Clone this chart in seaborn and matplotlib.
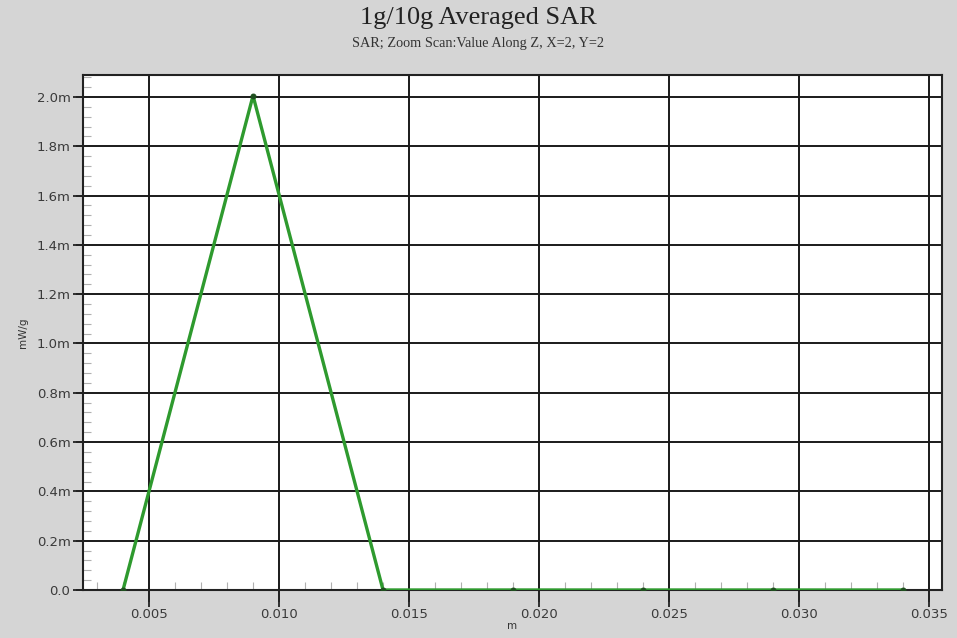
import matplotlib
matplotlib.use("Agg")
import matplotlib.pyplot as plt
from matplotlib.ticker import MultipleLocator
import seaborn as sns
import pandas as pd

# Data
z_m = [0.004, 0.009, 0.014, 0.019, 0.024, 0.029, 0.034]
sar_mw_g = [0.0, 0.002005, 0.0, 0.0, 0.0, 0.0, 0.0]
x_ticks = [0.005, 0.010, 0.015, 0.020, 0.025, 0.030, 0.035]
x_tick_labels = ["0.005", "0.010", "0.015", "0.020", "0.025", "0.030", "0.035"]
y_ticks = [0.0, 0.0002, 0.0004, 0.0006, 0.0008, 0.0010, 0.0012, 0.0014, 0.0016, 0.0018, 0.0020]
y_tick_labels = ["0.0", "0.2m", "0.4m", "0.6m", "0.8m", "1.0m", "1.2m", "1.4m", "1.6m", "1.8m", "2.0m"]

df = pd.DataFrame({"z": z_m, "sar": sar_mw_g})

sns.set_style("ticks")
plt.rcParams["font.family"] = ["DejaVu Sans"]

bg = "#d5d5d5"
W, H = 957, 638
L, R, T, B = 83, 942, 75, 590
fig = plt.figure(figsize=(W / 100, H / 100), dpi=100, facecolor=bg)
ax = fig.add_axes([L / W, 1 - B / H, (R - L) / W, (B - T) / H])
ax.set_facecolor("white")

sns.lineplot(data=df, x="z", y="sar", ax=ax, color="#2e9a2e", linewidth=2.4,
             marker="o", markersize=3.5, markerfacecolor="#1f4f1f",
             markeredgecolor="#1f4f1f", zorder=3)

ax.set_xlim(0.00246, 0.0355)
ax.set_ylim(0.0, 0.002089)

ax.set_xticks(x_ticks)
ax.set_xticklabels(x_tick_labels, fontsize=9.5, color="#3a3a3a")
ax.set_yticks(y_ticks)
ax.set_yticklabels(y_tick_labels, fontsize=9.5, color="#3a3a3a")
ax.xaxis.set_minor_locator(MultipleLocator(0.001))
ax.yaxis.set_minor_locator(MultipleLocator(0.00004))

ax.grid(True, which="major", color="#1a1a1a", linewidth=1.4)
for s in ax.spines.values():
    s.set_color("#222222")
    s.set_linewidth(1.5)

ax.tick_params(axis="both", which="minor", bottom=True, left=True, direction="in",
               length=6, width=0.8, color="#b0b0b0")
ax.tick_params(axis="y", which="major", left=True, direction="out", length=7, width=1.3,
               color="#222222", pad=2)
ax.tick_params(axis="x", which="major", bottom=True, direction="out", length=12, width=1.3,
               color="#222222", pad=1)

# explicit outward major tick marks (drawn at the tick values, outside the axes)
xt_len = 12 / (B - T)
yt_len = 7 / (R - L)
ax.vlines(x_ticks, -xt_len, 0, transform=ax.get_xaxis_transform(), clip_on=False,
          colors="#222222", linewidth=1.3)
ax.hlines(y_ticks, -yt_len, 0, transform=ax.get_yaxis_transform(), clip_on=False,
          colors="#222222", linewidth=1.3)

ax.set_xlabel("m", fontsize=7.5, color="#333333", labelpad=0)
ax.set_ylabel("mW/g", fontsize=7.5, color="#333333", labelpad=6)

fig.text(0.5, 1 - 18 / H, "1g/10g Averaged SAR", ha="center", va="center",
         fontsize=19, family="Liberation Serif", color="#222222")
fig.text(0.5, 1 - 43 / H, "SAR; Zoom Scan:Value Along Z, X=2, Y=2", ha="center",
         va="center", fontsize=10.3, family="Liberation Serif", color="#333333")

fig.savefig("out.png", dpi=100, facecolor=bg)
